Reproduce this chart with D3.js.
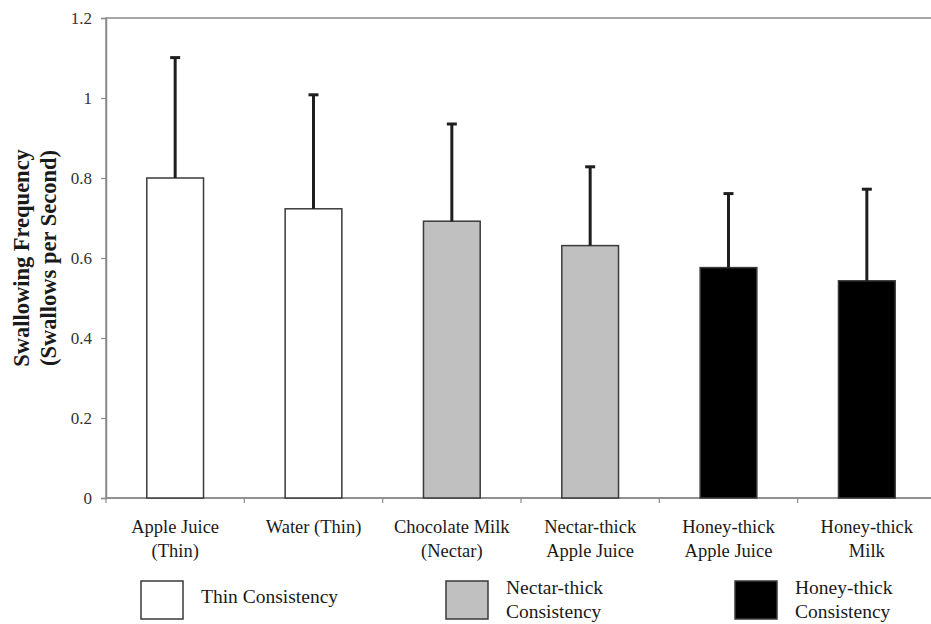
<!DOCTYPE html>
<html>
<head>
<meta charset="utf-8">
<script src="https://cdn.jsdelivr.net/npm/d3@7"></script>
<style>
  html, body { margin: 0; padding: 0; background: #fff; }
  svg { display: block; }
  svg text { font-family: "Liberation Serif", "Times New Roman", serif; }
</style>
</head>
<body>
<svg id="chart" width="931" height="624"></svg>
<script>
// Drinks tested, two-line labels
const categories = [
  ["Apple Juice", "(Thin)"],
  ["Water (Thin)"],
  ["Chocolate Milk", "(Nectar)"],
  ["Nectar-thick", "Apple Juice"],
  ["Honey-thick", "Apple Juice"],
  ["Honey-thick", "Milk"]
];
// Mean swallowing frequency and mean + 1 SD
const means = [0.80, 0.723, 0.692, 0.631, 0.576, 0.543];
const upper = [1.101, 1.008, 0.935, 0.828, 0.761, 0.772];
// Consistency group of each drink
const groups = ["thin", "thin", "nectar", "nectar", "honey", "honey"];
const yTicks = [0, 0.2, 0.4, 0.6, 0.8, 1, 1.2];
const legendItems = [
  { key: "thin", lines: ["Thin Consistency"] },
  { key: "nectar", lines: ["Nectar-thick", "Consistency"] },
  { key: "honey", lines: ["Honey-thick", "Consistency"] }
];

const fills = { thin: "#ffffff", nectar: "#c0c0c0", honey: "#000000" };
const serif = "'Liberation Serif', 'Times New Roman', serif";

const svg = d3.select("#chart");
const plotLeft = 106, plotRight = 936, plotTop = 18, plotBottom = 498;

const x = d3.scaleBand()
  .domain(d3.range(categories.length))
  .range([plotLeft, plotRight])
  .paddingInner(0.59)
  .paddingOuter(0.295);

const y = d3.scaleLinear().domain([0, 1.2]).range([plotBottom, plotTop]);

const axisColor = "#8a8a8a";
const textColor = "#1a1a1a";

// plot frame
svg.append("rect")
  .attr("x", plotLeft).attr("y", plotTop)
  .attr("width", plotRight - plotLeft).attr("height", plotBottom - plotTop)
  .attr("fill", "none").attr("stroke", axisColor).attr("stroke-width", 1.5);

// y axis
const yAxis = svg.append("g")
  .attr("transform", `translate(${plotLeft},0)`)
  .call(d3.axisLeft(y).tickValues(yTicks).tickSize(5).tickPadding(9)
    .tickFormat(d => String(d)));
yAxis.attr("font-family", serif);
yAxis.select(".domain").attr("stroke", axisColor).attr("stroke-width", 1.5);
yAxis.selectAll(".tick line").attr("stroke", axisColor).attr("stroke-width", 1.2);
yAxis.selectAll(".tick text")
  .attr("font-size", 17).attr("fill", "#333")
  .attr("font-family", serif);

// x axis line
svg.append("line")
  .attr("x1", plotLeft).attr("x2", plotRight)
  .attr("y1", plotBottom).attr("y2", plotBottom)
  .attr("stroke", axisColor).attr("stroke-width", 1.5);

// tick marks between categories
const step = x.step();
svg.append("g").selectAll("line")
  .data(d3.range(categories.length + 1))
  .join("line")
  .attr("x1", i => plotLeft + i * step)
  .attr("x2", i => plotLeft + i * step)
  .attr("y1", plotBottom).attr("y2", plotBottom + 5)
  .attr("stroke", axisColor).attr("stroke-width", 1.2);

// bars
svg.append("g").selectAll("rect")
  .data(means)
  .join("rect")
  .attr("x", (d, i) => x(i))
  .attr("y", d => y(d))
  .attr("width", x.bandwidth())
  .attr("height", d => y(0) - y(d))
  .attr("fill", (d, i) => fills[groups[i]])
  .attr("stroke", "#3a3a3a")
  .attr("stroke-width", 1.5);

// error bars (upper only)
const err = svg.append("g").attr("stroke", "#1e1e1e").attr("stroke-width", 3);
means.forEach((m, i) => {
  const cx = x(i) + x.bandwidth() / 2;
  err.append("line")
    .attr("x1", cx).attr("x2", cx)
    .attr("y1", y(m)).attr("y2", y(upper[i]));
  err.append("line")
    .attr("x1", cx - 5).attr("x2", cx + 5)
    .attr("y1", y(upper[i])).attr("y2", y(upper[i]));
});

// category labels
svg.append("g").selectAll("text")
  .data(categories)
  .join("text")
  .attr("text-anchor", "middle")
  .attr("font-family", serif)
  .attr("font-size", 18.5)
  .attr("fill", textColor)
  .each(function (lines, i) {
    const cx = x(i) + x.bandwidth() / 2;
    d3.select(this).selectAll("tspan")
      .data(lines)
      .join("tspan")
      .attr("x", cx)
      .attr("y", (d, j) => 533 + j * 24)
      .text(d => d);
  });

// y title
svg.append("text")
  .attr("transform", `translate(0,258) rotate(-90)`)
  .attr("text-anchor", "middle")
  .attr("font-family", serif)
  .attr("font-size", 22.5)
  .attr("font-weight", "bold")
  .attr("fill", textColor)
  .selectAll("tspan")
  .data(["Swallowing Frequency", "(Swallows per Second)"])
  .join("tspan")
  .attr("x", 0)
  .attr("y", (d, j) => 29 + j * 27)
  .text(d => d);

// legend
const legendX = [141, 446, 735];
const legend = svg.append("g");
legendItems.forEach((item, i) => {
  const g = legend.append("g");
  g.append("rect")
    .attr("x", legendX[i]).attr("y", 581)
    .attr("width", 42).attr("height", 38)
    .attr("fill", fills[item.key])
    .attr("stroke", "#3a3a3a").attr("stroke-width", 1.5);
  const t = g.append("text")
    .attr("font-family", serif)
    .attr("font-size", 19.5).attr("fill", textColor);
  const baseY = item.lines.length === 1 ? 603 : 594;
  t.selectAll("tspan")
    .data(item.lines)
    .join("tspan")
    .attr("x", legendX[i] + 60)
    .attr("y", (d, j) => baseY + j * 24)
    .text(d => d);
});
</script>
</body>
</html>
